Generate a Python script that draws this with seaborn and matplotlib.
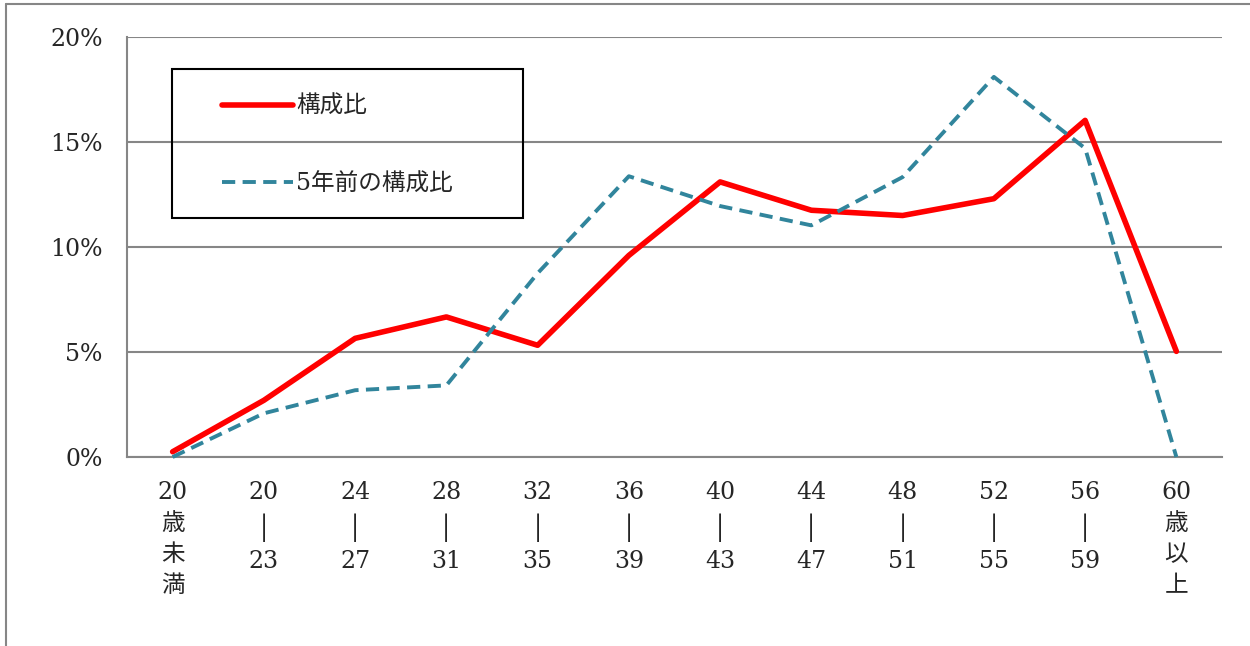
import numpy as np
import pandas as pd
import seaborn as sns
from matplotlib import pyplot as plt
from matplotlib.lines import Line2D
from matplotlib.patches import Rectangle

age_groups = [
    "20\n歳\n未\n満", "20\n│\n23", "24\n│\n27", "28\n│\n31", "32\n│\n35", "36\n│\n39",
    "40\n│\n43", "44\n│\n47", "48\n│\n51", "52\n│\n55", "56\n│\n59", "60\n歳\n以\n上",
]
share_now = [0.25, 2.7, 5.65, 6.67, 5.32, 9.6, 13.1, 11.75, 11.5, 12.3, 16.03, 5.03]
share_5y_ago = [0.0, 2.08, 3.18, 3.41, 8.75, 13.37, 11.95, 11.03, 13.33, 18.1, 14.7, 0.0]
series_names = ["構成比", "5年前の構成比"]
y_ticks = [0, 5, 10, 15, 20]

GRAY = "#868686"
RED = "#FF0000"
TEAL = "#31859C"

df = pd.DataFrame({
    "age": age_groups * 2,
    "share": share_now + share_5y_ago,
    "series": [series_names[0]] * len(age_groups) + [series_names[1]] * len(age_groups),
})

sns.set_style("white")
plt.rcParams["font.family"] = ["DejaVu Serif", "Noto Sans CJK JP"]
plt.rcParams["font.size"] = 17

fig = plt.figure(figsize=(12.5, 6.46), dpi=100)
ax = fig.add_axes([127 / 1250, 189 / 646, 1095 / 1250, 420 / 646])

sns.lineplot(
    data=df, x="age", y="share",
    hue="series", style="series", size="series",
    hue_order=series_names, style_order=series_names, size_order=series_names,
    palette={series_names[0]: RED, series_names[1]: TEAL},
    dashes={series_names[0]: "", series_names[1]: (3.4, 1.9)},
    sizes={series_names[0]: 4.0, series_names[1]: 2.8},
    sort=False, clip_on=False, zorder=3, ax=ax,
)

# rebuild the legend like the Excel box
old = ax.get_legend()
handles = old.legend_handles
labels = [t.get_text() for t in old.get_texts()]
old.remove()
ax.legend(
    handles, labels, frameon=False, loc="upper left",
    bbox_to_anchor=((222 - 127) / 1095, (457 - 95) / 420),
    borderpad=0, borderaxespad=0, handlelength=3.0, handletextpad=0.15,
    labelspacing=2.3, fontsize=17,
)
ax.add_patch(Rectangle(
    ((172 - 127) / 1095, (457 - 218) / 420), 351 / 1095, 149 / 420,
    transform=ax.transAxes, fill=False, edgecolor="black", lw=1.5, zorder=4,
))

ax.set_xlim(-0.5, len(age_groups) - 0.5)
ax.set_ylim(0, 20)
ax.set_yticks(y_ticks)
ax.set_yticklabels([f"{v}%" for v in y_ticks])
ax.set_xticks(np.arange(-0.5, len(age_groups), 1), minor=True)
ax.set_xlabel("")
ax.set_ylabel("")

ax.grid(False)
ax.yaxis.grid(True, color=GRAY, lw=1.5)
ax.set_axisbelow(True)
for side in ["top", "right"]:
    ax.spines[side].set_visible(False)
for side in ["left", "bottom"]:
    ax.spines[side].set_color(GRAY)
    ax.spines[side].set_linewidth(1.5)

ax.tick_params(axis="x", which="major", length=0, pad=17)
ax.tick_params(axis="x", which="minor", length=6, width=1.5, color=GRAY)
ax.tick_params(axis="y", which="major", length=6.5, width=1.5, color=GRAY, pad=11)
for t in ax.get_xticklabels():
    t.set_linespacing(1.45)

# outer chart border (top and left only visible)
fig.add_artist(Line2D([6 / 1250, 6 / 1250], [0, 1 - 4 / 646], transform=fig.transFigure, color=GRAY, lw=1.5))
fig.add_artist(Line2D([6 / 1250, 1], [1 - 4 / 646, 1 - 4 / 646], transform=fig.transFigure, color=GRAY, lw=1.5))

fig.savefig("out.png", dpi=100)
